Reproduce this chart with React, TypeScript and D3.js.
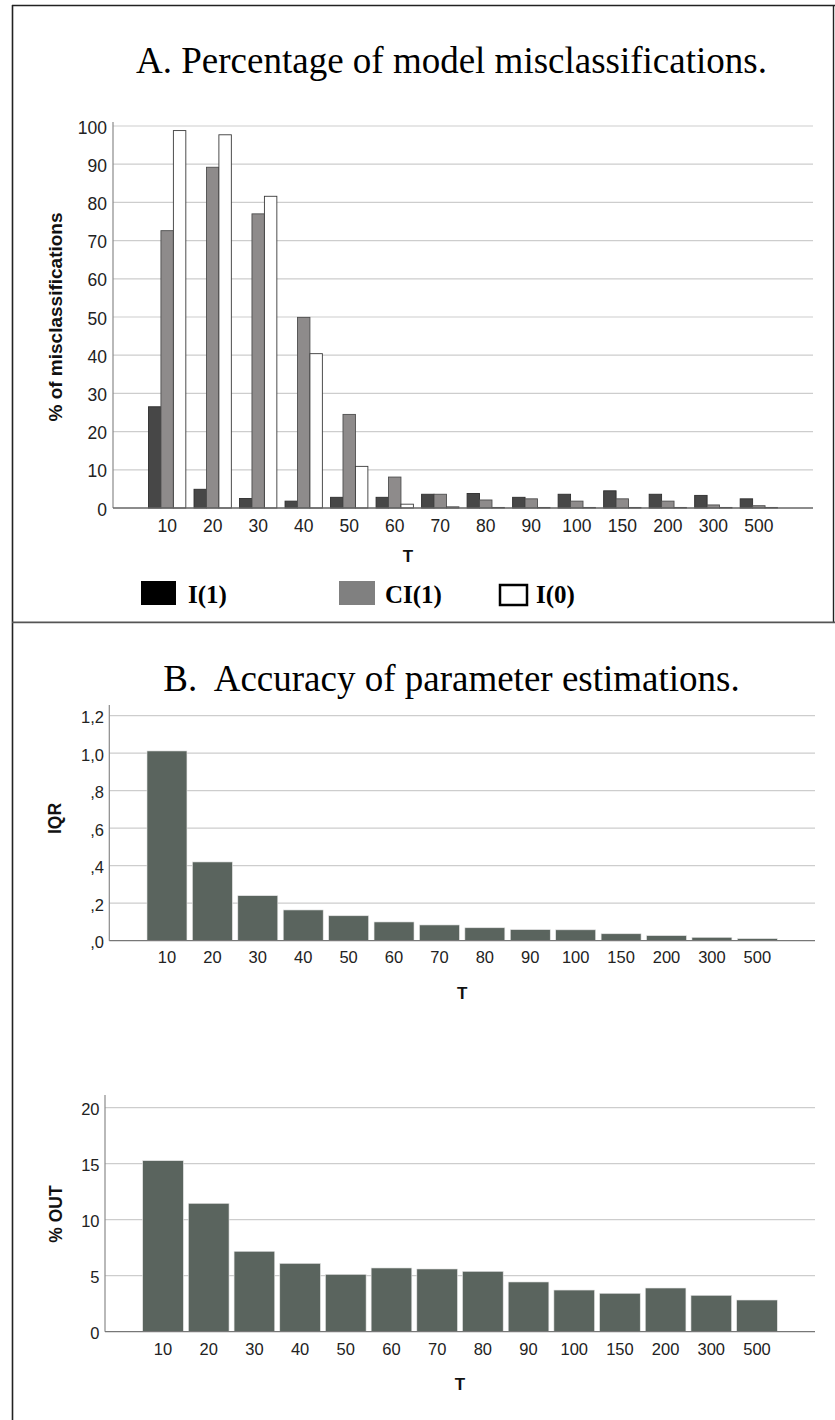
import React from "react";
import * as d3 from "d3";

const categories = ["10", "20", "30", "40", "50", "60", "70", "80", "90", "100", "150", "200", "300", "500"];
const seriesNames = ["I(1)", "CI(1)", "I(0)"];
const i1Values = [26.5, 4.9, 2.5, 1.8, 2.8, 2.8, 3.6, 3.8, 2.8, 3.6, 4.5, 3.6, 3.3, 2.4];
const ci1Values = [72.6, 89.2, 77.0, 49.9, 24.5, 8.1, 3.6, 2.1, 2.4, 1.8, 2.4, 1.8, 0.8, 0.6];
const i0Values = [98.8, 97.7, 81.6, 40.4, 10.9, 1.0, 0.3, 0.15, 0.15, 0.15, 0.15, 0.15, 0.15, 0.15];
const ticksA = [0, 10, 20, 30, 40, 50, 60, 70, 80, 90, 100];

const iqrValues = [1.012, 0.42, 0.24, 0.164, 0.133, 0.10, 0.084, 0.069, 0.059, 0.058, 0.037, 0.027, 0.018, 0.011];
const ticksIQR = [0, 0.2, 0.4, 0.6, 0.8, 1.0, 1.2];
const ticksIQRLabels = [",0", ",2", ",4", ",6", ",8", "1,0", "1,2"];

const outValues = [15.27, 11.46, 7.18, 6.1, 5.12, 5.69, 5.6, 5.39, 4.44, 3.72, 3.43, 3.9, 3.25, 2.83];
const ticksOUT = [0, 5, 10, 15, 20];

const SANS = "'Liberation Sans', Arial, sans-serif";
const SERIF = "'Liberation Serif', 'Times New Roman', serif";

const gridColor = "#cdcdcd";
const axisColor = "#8a8a8a";
const barColorB = "#5a645e";

function SimpleBars(props: {
  values: number[];
  ticks: number[];
  tickLabels?: string[];
  domainMax: number;
  x0: number;
  x1: number;
  yTop: number;
  yBottom: number;
  axisTop: number;
  outer: number;
  barFrac: number;
  tickLabelX: number;
  tickBaseline: number;
  tickSize: number;
  tickOffset: number;
  yTitle: string;
  yTitleX: number;
  yTitleY: number;
  tBaseline: number;
}) {
  const p = props;
  const x = d3.scaleBand<string>().domain(categories).range([p.x0, p.x1]).paddingInner(0).paddingOuter(p.outer);
  const y = d3.scaleLinear().domain([0, p.domainMax]).range([p.yBottom, p.yTop]);
  const bw = x.bandwidth() * p.barFrac;
  return (
    <g>
      {p.ticks.map((t, i) => (
        <g key={"t" + i}>
          {t !== 0 && (
            <line x1={p.x0} x2={p.x1} y1={y(t)} y2={y(t)} stroke={gridColor} strokeWidth={1.2} />
          )}
          <text
            x={p.tickLabelX}
            y={y(t) + p.tickOffset}
            textAnchor="end"
            dominantBaseline="middle"
            fontFamily={SANS}
            fontSize={p.tickSize}
            fill="#222"
          >
            {p.tickLabels ? p.tickLabels[i] : String(t)}
          </text>
        </g>
      ))}
      {p.values.map((v, i) => {
        const cx = (x(categories[i]) as number) + x.bandwidth() / 2;
        return (
          <rect
            key={"b" + i}
            x={cx - bw / 2}
            y={y(v)}
            width={bw}
            height={y(0) - y(v)}
            fill={barColorB}
            stroke="#e6e6e6"
            strokeWidth={0.6}
          />
        );
      })}
      <line x1={p.x0} x2={p.x0} y1={p.axisTop} y2={p.yBottom} stroke={axisColor} strokeWidth={1.2} />
      <line x1={p.x0} x2={p.x1} y1={p.yBottom} y2={p.yBottom} stroke="#777" strokeWidth={1.3} />
      {categories.map((c) => (
        <text
          key={"x" + c}
          x={(x(c) as number) + x.bandwidth() / 2}
          y={p.tickBaseline}
          textAnchor="middle"
          fontFamily={SANS}
          fontSize={p.tickSize}
          fill="#222"
        >
          {c}
        </text>
      ))}
      <text x={(p.x0 + p.x1) / 2 + 0} y={p.tBaseline} textAnchor="middle" fontFamily={SANS} fontWeight="bold" fontSize={17} fill="#111">
        T
      </text>
      <text
        transform={`translate(${p.yTitleX},${p.yTitleY}) rotate(-90)`}
        textAnchor="middle"
        fontFamily={SANS}
        fontWeight="bold"
        fontSize={17.5}
        fill="#111"
      >
        {p.yTitle}
      </text>
    </g>
  );
}

function PanelA() {
  const x0 = 113, x1 = 813, yTop = 126, yBottom = 508;
  const x = d3.scaleBand<string>().domain(categories).range([x0, x1]).paddingInner(0).paddingOuter(0.69);
  const y = d3.scaleLinear().domain([0, 100]).range([yBottom, yTop]);
  const groupW = x.bandwidth() * 0.82;
  const xs = d3.scaleBand<string>().domain(seriesNames).range([0, groupW]).padding(0);
  const series = [i1Values, ci1Values, i0Values];
  const fills = ["#474747", "#8e8b8b", "#ffffff"];
  const strokes = ["#2e2e2e", "#4e4e4e", "#3a3a3a"];
  return (
    <g>
      {ticksA.map((t) => (
        <g key={"ta" + t}>
          {t !== 0 && <line x1={x0} x2={x1} y1={y(t)} y2={y(t)} stroke={gridColor} strokeWidth={1.2} />}
          <text x={107} y={y(t) + 3} textAnchor="end" dominantBaseline="middle" fontFamily={SANS} fontSize={17.5} fill="#222">
            {t}
          </text>
        </g>
      ))}
      {categories.map((c, i) => {
        const gx = (x(c) as number) + x.bandwidth() / 2 - groupW / 2;
        return (
          <g key={"g" + c}>
            {series.map((vals, s) => (
              <rect
                key={s}
                x={gx + (xs(seriesNames[s]) as number)}
                y={y(vals[i])}
                width={xs.bandwidth()}
                height={y(0) - y(vals[i])}
                fill={fills[s]}
                stroke={strokes[s]}
                strokeWidth={0.9}
              />
            ))}
          </g>
        );
      })}
      <line x1={x0} x2={x0} y1={122} y2={yBottom} stroke={axisColor} strokeWidth={1.2} />
      <line x1={x0} x2={x1} y1={yBottom} y2={yBottom} stroke="#666" strokeWidth={1.4} />
      {categories.map((c) => (
        <text key={"xa" + c} x={(x(c) as number) + x.bandwidth() / 2} y={532} textAnchor="middle" fontFamily={SANS} fontSize={17.5} fill="#222">
          {c}
        </text>
      ))}
      <text x={408} y={562} textAnchor="middle" fontFamily={SANS} fontWeight="bold" fontSize={17} fill="#111">
        T
      </text>
      <text transform="translate(61.5,317) rotate(-90)" textAnchor="middle" fontFamily={SANS} fontWeight="bold" fontSize={19} fill="#111">
        % of misclassifications
      </text>
      {/* legend */}
      <rect x={141} y={581} width={35} height={24} fill="#000" />
      <text x={188} y={603} fontFamily={SERIF} fontWeight="bold" fontSize={25} fill="#000">
        {seriesNames[0]}
      </text>
      <rect x={339} y={581} width={36} height={24} fill="#808080" />
      <text x={385} y={603} fontFamily={SERIF} fontWeight="bold" fontSize={25} fill="#000">
        {seriesNames[1]}
      </text>
      <rect x={500} y={585} width={27} height={20} fill="#fff" stroke="#000" strokeWidth={2.5} />
      <text x={536} y={603} fontFamily={SERIF} fontWeight="bold" fontSize={25} fill="#000">
        {seriesNames[2]}
      </text>
    </g>
  );
}

export default function App() {
  return (
    <svg width={835} height={1420} style={{ position: "absolute", left: 0, top: 0, background: "#fff" }}>
      <rect x={0} y={0} width={835} height={1420} fill="#fff" />
      {/* frame */}
      <line x1={12.5} x2={12.5} y1={5} y2={1420} stroke="#222" strokeWidth={1.6} />
      <line x1={12} x2={835} y1={5.5} y2={5.5} stroke="#222" strokeWidth={1.6} />
      <line x1={833.5} x2={833.5} y1={5} y2={622} stroke="#222" strokeWidth={1.4} />
      <line x1={12} x2={835} y1={622.3} y2={622.3} stroke="#555" strokeWidth={1.8} />

      <text x={451.5} y={73} textAnchor="middle" fontFamily={SERIF} fontSize={37} fill="#000">
        A. Percentage of model misclassifications.
      </text>
      <PanelA />

      <text x={451.5} y={691} textAnchor="middle" fontFamily={SERIF} fontSize={37} fill="#000" style={{ whiteSpace: "pre" }}>
        {"B.  Accuracy of parameter estimations."}
      </text>

      <SimpleBars
        values={iqrValues}
        ticks={ticksIQR}
        tickLabels={ticksIQRLabels}
        domainMax={1.2}
        x0={109.3}
        x1={815}
        yTop={715.7}
        yBottom={940.7}
        axisTop={705}
        outer={0.77}
        barFrac={0.88}
        tickLabelX={104}
        tickBaseline={963}
        tickSize={16.5}
        tickOffset={3}
        yTitle="IQR"
        yTitleX={61}
        yTitleY={818.5}
        tBaseline={999}
      />
      <SimpleBars
        values={outValues}
        ticks={ticksOUT}
        domainMax={20}
        x0={105}
        x1={815}
        yTop={1107.7}
        yBottom={1331.7}
        axisTop={1095}
        outer={0.77}
        barFrac={0.89}
        tickLabelX={99.5}
        tickBaseline={1355}
        tickSize={16.5}
        tickOffset={2.5}
        yTitle="% OUT"
        yTitleX={62}
        yTitleY={1214}
        tBaseline={1390}
      />
    </svg>
  );
}
